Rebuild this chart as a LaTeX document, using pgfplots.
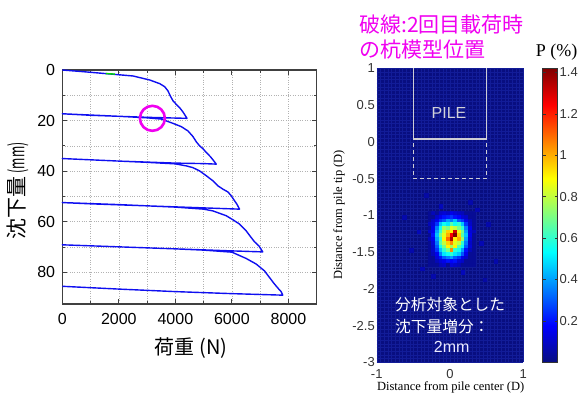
\documentclass[border=0pt]{standalone}
\usepackage{fontspec}
\setmainfont{Liberation Sans}
\newfontfamily\timesf{Liberation Serif}
\newfontfamily\jp{Noto Sans CJK JP}
\usepackage{graphicx}
\usepackage{pgfplots}
\pgfplotsset{compat=1.18}

\definecolor{curveblue}{RGB}{15,15,240}
\definecolor{hotpink}{RGB}{240,0,240}
\definecolor{pilegray}{RGB}{205,205,212}
\definecolor{heatbg}{RGB}{8,14,128}
\definecolor{heatgrid}{RGB}{18,28,152}

\begin{document}
\begin{tikzpicture}
\useasboundingbox (0pt,0pt) rectangle (584pt,-392pt);

% ---------------- load–settlement curve ----------------
\begin{axis}[
  at={(62.3pt,-304pt)}, anchor=south west,
  scale only axis, width=254.4pt, height=234pt,
  xmin=0, xmax=9000, ymin=0, ymax=92.5, y dir=reverse,
  xtick={0,2000,4000,6000,8000}, ytick={0,20,40,60,80},
  minor x tick num=1, minor y tick num=1,
  grid=both,
  major grid style={dotted, black!30, line width=0.6pt},
  minor grid style={dotted, black!30, line width=0.6pt},
  tick align=inside, major tick length=5pt, minor tick length=3pt,
  axis line style={line width=1.2pt, black!75},
  tick style={line width=0.9pt, black!75},
  tick label style={font=\fontsize{16}{18}\selectfont},
  /pgf/number format/assume math mode=true,
  /pgf/number format/1000 sep={},
  scaled x ticks=false,
  xticklabel style={yshift=-5.5pt},
  yticklabel style={xshift=-3.7pt},
  clip=false,
]
\addplot[curveblue, line width=1.4pt, line join=round] coordinates {
  (0,0) (741,0.66) (1565,1.45) (2506,2.37) (3094,3.95) (3447,5.4)
  (3623,6.6) (3741,8.3) (3823,10.3) (3918,12.2) (4035,13.6) (4153,14.9)
  (4270,16.6) (4412,19.1)
  (4000,19.0) (3000,18.7) (2000,18.3) (1000,17.9) (0,17.3)
  (1000,17.8) (2000,18.3) (3000,18.9) (3500,19.4) (3918,21.1) (4212,22.4)
  (4447,24.1) (4623,26.3) (4741,28.4) (4859,30.0) (4976,31.1) (5094,32.6)
  (5235,34.2) (5329,35.5) (5447,37.2)
  (5000,37.0) (4000,36.8) (3000,36.4) (2000,36.0) (1000,35.5) (0,35.0)
  (1000,35.5) (2000,36.0) (3000,36.5) (4000,37.1) (4388,37.9) (4623,38.6)
  (4859,39.9) (5094,41.8) (5329,43.8) (5506,45.8) (5682,47.1) (5859,48.2)
  (5976,49.7) (6094,51.7) (6176,53.0) (6271,55.0)
  (5000,54.5) (4000,54.1) (3000,53.7) (2000,53.3) (1000,52.9) (0,52.4)
  (1000,52.8) (2000,53.2) (3000,53.7) (4000,54.2) (5000,55.0) (5329,55.7)
  (5800,57.6) (6035,59.2) (6271,60.9) (6506,63.6) (6682,66.2) (6800,67.9)
  (6953,69.5) (7094,71.9)
  (6000,71.5) (4000,70.7) (2000,69.9) (0,69.1)
  (2000,69.9) (4000,70.7) (5000,71.2) (6000,72.0) (6506,74.5) (6859,76.7)
  (7153,79.4) (7329,82.0) (7506,84.6) (7659,86.6) (7741,87.6) (7800,89.0)
  (6000,88.4) (4000,87.6) (2000,86.6) (0,85.5)
};
\addplot[green!85!black, line width=1.4pt] coordinates {(1540,1.40) (1860,1.62)};
\addplot[only marks, mark=o, mark size=12.5pt, hotpink, line width=2.6pt]
  coordinates {(3188,19.1)};
\end{axis}

\node[font=\jp\fontsize{20}{24}\selectfont] at (191pt,-348pt) {荷重 (N)};
\node[rotate=90, font=\jp\fontsize{21}{24}\selectfont] at (17.5pt,-191pt)
  {沈下量\,\scalebox{0.58}[1]{(mm)}};

% ---------------- probability map ----------------
\begin{axis}[
  at={(376.7pt,-362.3pt)}, anchor=south west,
  scale only axis, width=146.6pt, height=294pt,
  xmin=-1, xmax=1, ymin=-3, ymax=1, enlargelimits=false,
  xtick={-1,0,1}, ytick={-3,-2.5,-2,-1.5,-1,-0.5,0,0.5,1},
  minor x tick num=19, minor y tick num=9,
  grid=both,
  major grid style={heatgrid, line width=0.3pt},
  minor grid style={heatgrid, line width=0.3pt},
  major tick length=0pt, minor tick length=0pt,
  axis line style={draw=none},
  axis background/.style={fill=heatbg},
  tick label style={font=\fontsize{13}{15}\selectfont, text=black!80, inner sep=1pt},
  /pgf/number format/assume math mode=true,
  xticklabel style={yshift=-5.7pt},
  yticklabel style={xshift=-0.7pt},
  colormap={heat}{rgb255(0cm)=(8,14,128); rgb255(1cm)=(0,0,255);
    rgb255(3cm)=(0,255,255); rgb255(5cm)=(255,255,0);
    rgb255(7cm)=(255,0,0); rgb255(8cm)=(128,0,0)},
  point meta min=0, point meta max=1.42,
  colorbar,
  colorbar style={
    at={(parent axis.north east)}, anchor=north west, xshift=10.8pt,
    scale only axis, width=15pt, height=294pt,
    ytick={0.2,0.4,0.6,0.8,1,1.2,1.4},
    yticklabel pos=right,
    major tick length=3pt,
    tick style={black!80, line width=0.5pt},
    axis line style={black!80, line width=0.6pt},
    tick label style={font=\fontsize{13}{15}\selectfont, text=black!80, inner sep=1pt},
    yticklabel style={xshift=0.9pt},
    /pgf/number format/assume math mode=true,
  },
]
\addplot[matrix plot*, mesh/cols=13, point meta=explicit] table[meta=c] {
x y c
-0.275 -0.975 0.03
-0.225 -0.975 0.08
-0.175 -0.975 0.03
-0.125 -0.975 0.10
-0.075 -0.975 0.12
-0.025 -0.975 0.10
0.025 -0.975 0.15
0.075 -0.975 0.12
0.125 -0.975 0.10
0.175 -0.975 0.08
0.225 -0.975 0.03
0.275 -0.975 0.03
0.325 -0.975 0.03
-0.275 -1.025 0.03
-0.225 -1.025 0.03
-0.175 -1.025 0.10
-0.125 -1.025 0.15
-0.075 -1.025 0.20
-0.025 -1.025 0.22
0.025 -1.025 0.25
0.075 -1.025 0.20
0.125 -1.025 0.18
0.175 -1.025 0.12
0.225 -1.025 0.10
0.275 -1.025 0.03
0.325 -1.025 0.03
-0.275 -1.075 0.03
-0.225 -1.075 0.10
-0.175 -1.075 0.15
-0.125 -1.075 0.25
-0.075 -1.075 0.30
-0.025 -1.075 0.40
0.025 -1.075 0.35
0.075 -1.075 0.45
0.125 -1.075 0.30
0.175 -1.075 0.25
0.225 -1.075 0.15
0.275 -1.075 0.08
0.325 -1.075 0.03
-0.275 -1.125 0.08
-0.225 -1.125 0.12
-0.175 -1.125 0.25
-0.125 -1.125 0.45
-0.075 -1.125 0.55
-0.025 -1.125 0.50
0.025 -1.125 0.65
0.075 -1.125 0.55
0.125 -1.125 0.60
0.175 -1.125 0.45
0.225 -1.125 0.25
0.275 -1.125 0.10
0.325 -1.125 0.03
-0.275 -1.175 0.03
-0.225 -1.175 0.15
-0.175 -1.175 0.35
-0.125 -1.175 0.55
-0.075 -1.175 0.75
-0.025 -1.175 0.70
0.025 -1.175 0.85
0.075 -1.175 0.80
0.125 -1.175 0.70
0.175 -1.175 0.60
0.225 -1.175 0.35
0.275 -1.175 0.15
0.325 -1.175 0.03
-0.275 -1.225 0.10
-0.225 -1.225 0.15
-0.175 -1.225 0.40
-0.125 -1.225 0.60
-0.075 -1.225 0.80
-0.025 -1.225 0.95
0.025 -1.225 0.90
0.075 -1.225 1.30
0.125 -1.225 0.85
0.175 -1.225 0.70
0.225 -1.225 0.40
0.275 -1.225 0.12
0.325 -1.225 0.08
-0.275 -1.275 0.03
-0.225 -1.275 0.20
-0.175 -1.275 0.45
-0.125 -1.275 0.70
-0.075 -1.275 0.85
-0.025 -1.275 1.00
0.025 -1.275 1.25
0.075 -1.275 1.42
0.125 -1.275 0.95
0.175 -1.275 0.65
0.225 -1.275 0.45
0.275 -1.275 0.15
0.325 -1.275 0.03
-0.275 -1.325 0.08
-0.225 -1.325 0.15
-0.175 -1.325 0.40
-0.125 -1.325 0.60
-0.075 -1.325 0.90
-0.025 -1.325 1.10
0.025 -1.325 1.35
0.075 -1.325 0.90
0.125 -1.325 1.00
0.175 -1.325 0.75
0.225 -1.325 0.40
0.275 -1.325 0.12
0.325 -1.325 0.03
-0.275 -1.375 0.03
-0.225 -1.375 0.12
-0.175 -1.375 0.35
-0.125 -1.375 0.65
-0.075 -1.375 0.80
-0.025 -1.375 0.95
0.025 -1.375 1.05
0.075 -1.375 0.85
0.125 -1.375 0.80
0.175 -1.375 0.60
0.225 -1.375 0.35
0.275 -1.375 0.10
0.325 -1.375 0.03
-0.275 -1.425 0.03
-0.225 -1.425 0.10
-0.175 -1.425 0.30
-0.125 -1.425 0.55
-0.075 -1.425 0.70
-0.025 -1.425 0.90
0.025 -1.425 0.75
0.075 -1.425 0.90
0.125 -1.425 0.65
0.175 -1.425 0.55
0.225 -1.425 0.30
0.275 -1.425 0.12
0.325 -1.425 0.03
-0.275 -1.475 0.03
-0.225 -1.475 0.10
-0.175 -1.475 0.25
-0.125 -1.475 0.45
-0.075 -1.475 0.60
-0.025 -1.475 0.70
0.025 -1.475 1.05
0.075 -1.475 0.60
0.125 -1.475 0.55
0.175 -1.475 0.40
0.225 -1.475 0.20
0.275 -1.475 0.08
0.325 -1.475 0.03
-0.275 -1.525 0.03
-0.225 -1.525 0.08
-0.175 -1.525 0.15
-0.125 -1.525 0.35
-0.075 -1.525 0.50
-0.025 -1.525 0.55
0.025 -1.525 0.60
0.075 -1.525 0.50
0.125 -1.525 0.45
0.175 -1.525 0.30
0.225 -1.525 0.15
0.275 -1.525 0.03
0.325 -1.525 0.03
-0.275 -1.575 0.03
-0.225 -1.575 0.03
-0.175 -1.575 0.12
-0.125 -1.575 0.20
-0.075 -1.575 0.30
-0.025 -1.575 0.35
0.025 -1.575 0.40
0.075 -1.575 0.30
0.125 -1.575 0.25
0.175 -1.575 0.15
0.225 -1.575 0.10
0.275 -1.575 0.03
0.325 -1.575 0.03
-0.275 -1.625 0.03
-0.225 -1.625 0.03
-0.175 -1.625 0.08
-0.125 -1.625 0.12
-0.075 -1.625 0.15
-0.025 -1.625 0.20
0.025 -1.625 0.18
0.075 -1.625 0.20
0.125 -1.625 0.12
0.175 -1.625 0.10
0.225 -1.625 0.03
0.275 -1.625 0.03
0.325 -1.625 0.03
-0.275 -1.675 0.03
-0.225 -1.675 0.03
-0.175 -1.675 0.03
-0.125 -1.675 0.08
-0.075 -1.675 0.10
-0.025 -1.675 0.03
0.025 -1.675 0.12
0.075 -1.675 0.10
0.125 -1.675 0.08
0.175 -1.675 0.03
0.225 -1.675 0.03
0.275 -1.675 0.03
0.325 -1.675 0.03
};
% isolated weak cells around the cluster
\addplot[scatter, only marks, mark=square*, mark size=1.84pt, point meta=explicit,
  scatter/use mapped color={draw=mapped color, fill=mapped color}]
  table[meta=c] {
x y c
-0.425 -1.225 0.08
0.425 -1.375 0.07
-0.375 -1.725 0.07
0.375 -0.925 0.07
-0.125 -0.875 0.08
0.175 -1.775 0.08
-0.525 -1.475 0.06
0.525 -1.125 0.06
-0.225 -1.825 0.06
0.275 -0.825 0.06
-0.625 -1.025 0.06
0.625 -1.625 0.06
-0.325 -0.725 0.05
0.475 -1.875 0.05
};
% pile model (solid) and its position at the second loading (dashed)
\addplot[pilegray, line width=1.4pt] coordinates {(-0.5,1) (-0.5,0.04) (0.5,0.04) (0.5,1)};
\addplot[pilegray, line width=1.4pt, dash pattern=on 4pt off 3pt]
  coordinates {(-0.5,-0.02) (-0.5,-0.5) (0.5,-0.5) (0.5,-0.02)};
\end{axis}

\node[text=pilegray!90!white, font=\fontsize{16}{18}\selectfont] at (449pt,-113.3pt) {PILE};
\node[anchor=west, inner sep=0pt, text=white, font=\jp\fontsize{15.7}{18}\selectfont]
  at (395pt,-305pt) {分析対象とした};
\node[anchor=west, inner sep=0pt, text=white, font=\jp\fontsize{15.7}{18}\selectfont]
  at (395pt,-326.7pt) {沈下量増分：};
\node[inner sep=0pt, text=white!92!blue, font=\fontsize{16}{18}\selectfont]
  at (451.7pt,-346.7pt) {2mm};

\node[font=\timesf\fontsize{18}{20}\selectfont] at (556.7pt,-51.7pt) {P (\%)};
\node[font=\timesf\fontsize{12.5}{14}\selectfont] at (450.7pt,-387pt)
  {Distance from pile center (D)};
\node[rotate=90, font=\timesf\fontsize{12.5}{14}\selectfont] at (339pt,-215pt)
  {Distance from pile tip (D)};

\node[anchor=west, inner sep=0pt, text=hotpink, font=\jp\fontsize{21}{24}\selectfont]
  at (359pt,-25pt) {破線:2回目載荷時};
\node[anchor=west, inner sep=0pt, text=hotpink, font=\jp\fontsize{21}{24}\selectfont]
  at (359pt,-50pt) {の杭模型位置};
\end{tikzpicture}
\end{document}
